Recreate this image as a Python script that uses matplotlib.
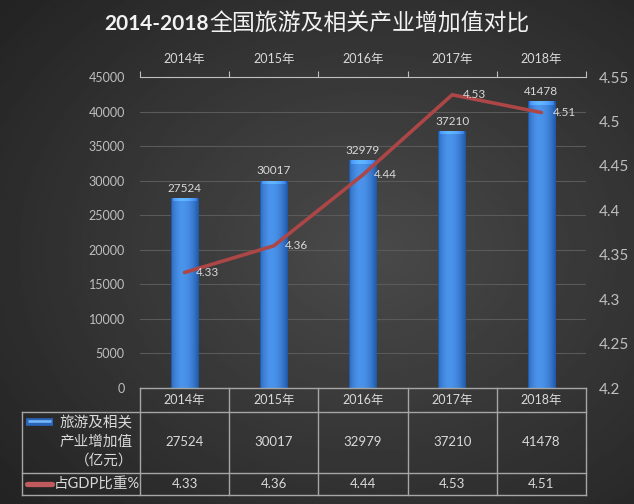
import numpy as np
import matplotlib
matplotlib.use('Agg')
import matplotlib.pyplot as plt
from matplotlib.colors import to_rgb
from matplotlib.lines import Line2D

plt.rcParams['font.family'] = ['Lato', 'Noto Sans CJK SC', 'DejaVu Sans']

# 数据
years = ['2014年', '2015年', '2016年', '2017年', '2018年']
value_added = [27524, 30017, 32979, 37210, 41478]   # 亿元
gdp_share = [4.33, 4.36, 4.44, 4.53, 4.51]          # %
bar_label = ['旅游及相关', '产业增加值', '（亿元）']
line_label = '占GDP比重%'
title_a = '2014-2018'
title_b = '全国旅游及相关产业增加值对比'

W, H = 634, 504
TXT = '#d9d9d9'
LINE_C = '#ad4646'

fig = plt.figure(figsize=(W / 100, H / 100), dpi=100)

# 深色径向渐变背景
bg = fig.add_axes([0, 0, 1, 1], zorder=-10)
yy, xx = np.mgrid[0:1:250j, 0:1:320j]
r = np.sqrt(((xx - 0.58) / 0.8) ** 2 + ((yy - 0.5) / 0.8) ** 2)
bg.imshow(0.29 - 0.16 * np.clip(r, 0, 1), cmap='gray', vmin=0, vmax=1,
          aspect='auto', extent=[0, 1, 0, 1])
bg.axis('off')


def py(p):
    # 像素行 -> figure 坐标
    return 1 - p / H


ax = fig.add_axes([140 / W, py(388), 446 / W, 311 / H])
ax.patch.set_visible(False)
x = np.arange(len(years))

bars = ax.bar(x, value_added, width=0.31, color='#3a80dc', zorder=3)

# 柱子的横向渐变
edge = np.array(to_rgb('#2159a8'))
hi = np.array(to_rgb('#4b94ec'))
for b in bars:
    hpx = int(b.get_height() / 45000 * 311)
    t = np.linspace(0, 1, 28)
    cols = []
    for ti in t:
        if ti < 0.35:
            c = edge + (hi - edge) * (ti / 0.35) ** 0.4
        else:
            c = hi + (edge - hi) * ((ti - 0.35) / 0.65) ** 2.2
        cols.append(c)
    cols = np.array(cols)
    img = np.repeat(cols[None, :, :], hpx, axis=0)
    img[:4, 2:-2] = np.clip(img[:4, 2:-2] * 1.18 + 0.03, 0, 1)
    im = ax.imshow(img, extent=[b.get_x(), b.get_x() + b.get_width(), 0, b.get_height()],
                   aspect='auto', zorder=3.5, interpolation='bilinear')
    im.set_clip_path(b)

for xi, v in zip(x, value_added):
    ax.annotate(str(v), (xi, v), xytext=(0, 3), textcoords='offset points',
                ha='center', va='bottom', color=TXT, fontsize=8.5, zorder=6)

ax.set_xlim(-0.5, len(years) - 0.5)
ax.set_ylim(0, 45000)
ax.set_yticks(range(0, 45001, 5000))
ax.yaxis.grid(True, color='#5a5a5a', lw=0.8)
ax.set_axisbelow(True)
ax.tick_params(axis='y', length=0, labelcolor='#bfbfbf', labelsize=9, pad=11)

ax.xaxis.set_ticks_position('top')
ax.set_xticks(np.arange(-0.5, len(years), 1))
ax.set_xticklabels([])
ax.set_xticks(x, minor=True)
ax.set_xticklabels(years, minor=True)
ax.tick_params(axis='x', which='major', direction='out', length=4.5,
               color='#bfbfbf', width=0.8)
ax.tick_params(axis='x', which='minor', length=0, pad=9, labelcolor=TXT, labelsize=9)
for s in ['left', 'right', 'bottom']:
    ax.spines[s].set_visible(False)
ax.spines['top'].set_color('#bfbfbf')
ax.spines['top'].set_linewidth(0.8)

ax2 = ax.twinx()
ax2.plot(x, gdp_share, color=LINE_C, lw=2.6, zorder=5, solid_capstyle='round')
for xi, v in zip(x, gdp_share):
    ax2.annotate(f'{v:.2f}', (xi, v), xytext=(8, 0), textcoords='offset points',
                 ha='left', va='center', color=TXT, fontsize=8.5, zorder=6)
ax2.set_ylim(4.2, 4.55)
rt = np.round(np.arange(4.2, 4.551, 0.05), 2)
ax2.set_yticks(rt)
ax2.set_yticklabels([f'{v:g}' for v in rt])
ax2.tick_params(axis='y', length=0, labelcolor='#bfbfbf', labelsize=11, pad=9)
for s in ax2.spines.values():
    s.set_visible(False)

# 标题：数字粗体，中文常规
rend = fig.canvas.get_renderer()
ta = fig.text(0, py(24), title_a, ha='left', va='center', fontsize=15,
              weight='bold', color='#f2f2f2')
tb = fig.text(0, py(24), title_b, ha='left', va='center', fontsize=16.5,
              color='#f2f2f2')
wa = ta.get_window_extent(rend).width / W
wb = tb.get_window_extent(rend).width / W
x0 = 0.5 - (wa + wb) / 2
ta.set_x(x0)
tb.set_x(x0 + wa)

# 底部数据表
inv = fig.transFigure.inverted()


def fx(d):
    return inv.transform(ax.transData.transform((d, 0)))[0]


TB = '#a6a6a6'
left = 22 / W
rows = [388, 412, 473, 495]
fig.add_artist(Line2D([fx(-0.5), fx(len(years) - 0.5)], [py(rows[0])] * 2, color=TB, lw=1))
for rp in rows[1:]:
    fig.add_artist(Line2D([left, fx(len(years) - 0.5)], [py(rp)] * 2, color=TB, lw=1))
for d in np.arange(-0.5, len(years), 1):
    fig.add_artist(Line2D([fx(d)] * 2, [py(rows[0]), py(rows[-1])], color=TB, lw=1))
fig.add_artist(Line2D([left] * 2, [py(rows[1]), py(rows[-1])], color=TB, lw=1))

for xi, yr, v, s in zip(x, years, value_added, gdp_share):
    fig.text(fx(xi), py(400), yr, ha='center', va='center', color=TXT, fontsize=9)
    fig.text(fx(xi), py(442), str(v), ha='center', va='center', color=TXT, fontsize=9.5)
    fig.text(fx(xi), py(484), f'{s:.2f}', ha='center', va='center', color=TXT, fontsize=9.5)

# 图例键
fig.add_artist(Line2D([26 / W, 53 / W], [py(422)] * 2, color='#2a66b8', lw=5.5, solid_capstyle='butt'))
fig.add_artist(Line2D([28 / W, 51 / W], [py(421)] * 2, color='#7ab8ff', lw=1.8, solid_capstyle='butt'))
fig.add_artist(Line2D([27 / W, 52 / W], [py(484)] * 2, color='#c05a5c', lw=3.8, solid_capstyle='round'))
for yp, t in zip([422, 442, 461], bar_label):
    fig.text(133 / W, py(yp), t, ha='right', va='center', color=TXT, fontsize=10.5)
fig.text(54 / W, py(484), line_label, ha='left', va='center', color=TXT, fontsize=10.5)

fig.savefig('out.png', dpi=100)
